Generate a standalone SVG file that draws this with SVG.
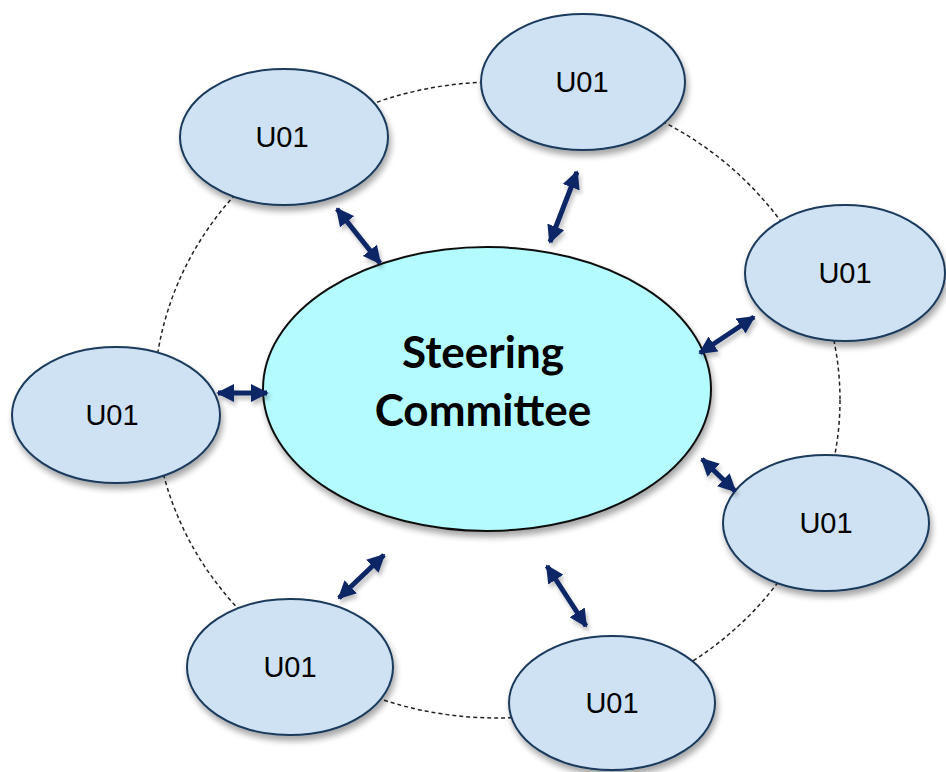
<svg xmlns="http://www.w3.org/2000/svg" width="946" height="772" viewBox="0 0 946 772">
<defs>
<filter id="sh" x="-20%" y="-20%" width="150%" height="150%">
<feGaussianBlur in="SourceAlpha" stdDeviation="3"/>
<feOffset dx="2" dy="5" result="b"/>
<feComponentTransfer><feFuncA type="linear" slope="0.35"/></feComponentTransfer>
<feMerge><feMergeNode/><feMergeNode in="SourceGraphic"/></feMerge>
</filter>
<filter id="sh2" x="-30%" y="-30%" width="160%" height="160%">
<feGaussianBlur in="SourceAlpha" stdDeviation="2"/>
<feOffset dx="2" dy="4" result="b"/>
<feComponentTransfer><feFuncA type="linear" slope="0.25"/></feComponentTransfer>
<feMerge><feMergeNode/><feMergeNode in="SourceGraphic"/></feMerge>
</filter>
<marker id="ah" viewBox="0 0 10 10" refX="9" refY="5" markerWidth="3.6" markerHeight="3.6" orient="auto-start-reverse" markerUnits="strokeWidth">
<path d="M0,0 L10,5 L0,10 z" fill="#0b2566"/>
</marker>
</defs>
<style>
.sat{fill:#cfe2f3;stroke:#1a3a5c;stroke-width:2}
.lbl{font-family:"Liberation Sans",Arial,sans-serif;font-size:29px;fill:#000;text-anchor:middle}
.arr{stroke:#0b2566;stroke-width:5;fill:none;marker-start:url(#ah);marker-end:url(#ah)}
.ttl{font-family:Lato,"Open Sans",sans-serif;font-weight:bold;font-size:44px;text-anchor:middle;fill:#000}
</style>
<rect width="946" height="772" fill="#fff"/>
<ellipse cx="497" cy="400" rx="343" ry="318" fill="none" stroke="#222" stroke-width="1.5" stroke-dasharray="4,3"/>
<g id="center">
<ellipse cx="487" cy="389" rx="224" ry="142" fill="#b3fbff" stroke="#111" stroke-width="2" filter="url(#sh)"/>
<text class="ttl" x="483" y="368">Steering</text>
<text class="ttl" x="483" y="426">Committee</text>
</g>
<g id="n1"><ellipse class="sat" cx="284" cy="137" rx="104" ry="68" filter="url(#sh)"/><text class="lbl" x="282" y="147">U01</text></g>
<g id="n2"><ellipse class="sat" cx="583" cy="82" rx="102" ry="68" filter="url(#sh)"/><text class="lbl" x="582" y="92">U01</text></g>
<g id="n3"><ellipse class="sat" cx="845" cy="273" rx="100" ry="68" filter="url(#sh)"/><text class="lbl" x="845" y="283">U01</text></g>
<g id="n4"><ellipse class="sat" cx="116" cy="415" rx="104" ry="68" filter="url(#sh)"/><text class="lbl" x="112" y="425">U01</text></g>
<g id="n5"><ellipse class="sat" cx="826" cy="523" rx="103" ry="68" filter="url(#sh)"/><text class="lbl" x="826" y="533">U01</text></g>
<g id="n6"><ellipse class="sat" cx="290" cy="667" rx="103" ry="68" filter="url(#sh)"/><text class="lbl" x="290" y="677">U01</text></g>
<g id="n7"><ellipse class="sat" cx="612" cy="703" rx="103" ry="67" filter="url(#sh)"/><text class="lbl" x="612" y="713">U01</text></g>
<g id="connectors" filter="url(#sh2)">
<line class="arr" x1="337" y1="209" x2="380" y2="263"/>
<line class="arr" x1="577" y1="172" x2="550" y2="242"/>
<line class="arr" x1="754" y1="317" x2="700" y2="353"/>
<line class="arr" x1="218" y1="393" x2="267" y2="393"/>
<line class="arr" x1="702" y1="459" x2="735" y2="491"/>
<line class="arr" x1="384" y1="555" x2="339" y2="598"/>
<line class="arr" x1="547" y1="566" x2="586" y2="626"/>
</g>
</svg>
